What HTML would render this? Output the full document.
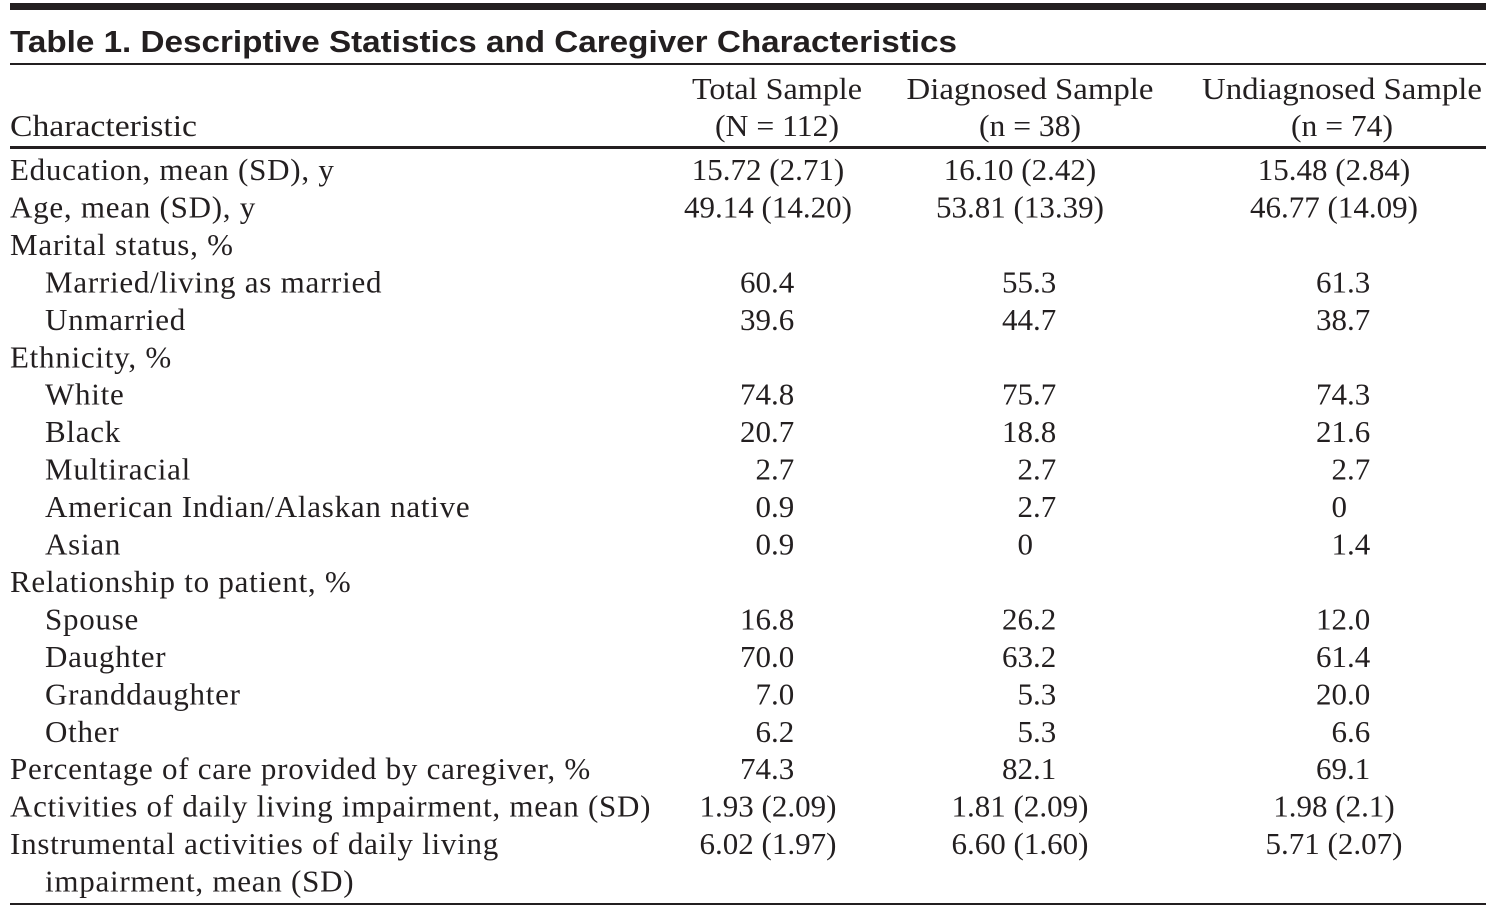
<!DOCTYPE html>
<html><head><meta charset="utf-8"><style>
html,body{margin:0;padding:0;background:#fff;}
svg{display:block;}
text{font-family:"Liberation Serif",serif;font-size:31px;fill:#231f20;}
.t{font-family:"Liberation Sans",sans-serif;font-weight:bold;font-size:31px;}
.lab{letter-spacing:0.75px;}
</style></head><body>
<svg id="tbl" width="1498" height="910" viewBox="0 0 1498 910" xmlns="http://www.w3.org/2000/svg">
<rect x="10" y="3" width="1476" height="7" fill="#231f20"/>
<text class="t" x="10" y="52" textLength="947" lengthAdjust="spacingAndGlyphs">Table 1. Descriptive Statistics and Caregiver Characteristics</text>
<rect x="10" y="63" width="1476" height="2" fill="#231f20"/>
<text x="10" y="136" textLength="187" lengthAdjust="spacingAndGlyphs">Characteristic</text>
<text x="777" y="99" text-anchor="middle" textLength="170" lengthAdjust="spacingAndGlyphs">Total Sample</text>
<text x="777" y="136" text-anchor="middle" textLength="124" lengthAdjust="spacingAndGlyphs">(N = 112)</text>
<text x="1030" y="99" text-anchor="middle" textLength="247" lengthAdjust="spacingAndGlyphs">Diagnosed Sample</text>
<text x="1030" y="136" text-anchor="middle" textLength="102" lengthAdjust="spacingAndGlyphs">(n = 38)</text>
<text x="1342" y="99" text-anchor="middle" textLength="280" lengthAdjust="spacingAndGlyphs">Undiagnosed Sample</text>
<text x="1342" y="136" text-anchor="middle" textLength="102" lengthAdjust="spacingAndGlyphs">(n = 74)</text>
<rect x="10" y="146" width="1476" height="3" fill="#231f20"/>
<rect x="10" y="903" width="1476" height="2" fill="#231f20"/>
<g id="rows"></g>
</svg>
<script>
const labels=["Education, mean (SD), y","Age, mean (SD), y","Marital status, %","Married/living as married","Unmarried","Ethnicity, %","White","Black","Multiracial","American Indian/Alaskan native","Asian","Relationship to patient, %","Spouse","Daughter","Granddaughter","Other","Percentage of care provided by caregiver, %","Activities of daily living impairment, mean (SD)","Instrumental activities of daily living","impairment, mean (SD)"];
const indents=[0,0,0,1,1,0,1,1,1,1,1,0,1,1,1,1,0,0,0,1];
const totalVals=["15.72 (2.71)","49.14 (14.20)","","60.4","39.6","","74.8","20.7","2.7","0.9","0.9","","16.8","70.0","7.0","6.2","74.3","1.93 (2.09)","6.02 (1.97)",""];
const diagVals=["16.10 (2.42)","53.81 (13.39)","","55.3","44.7","","75.7","18.8","2.7","2.7","0","","26.2","63.2","5.3","5.3","82.1","1.81 (2.09)","6.60 (1.60)",""];
const undiagVals=["15.48 (2.84)","46.77 (14.09)","","61.3","38.7","","74.3","21.6","2.7","0","1.4","","12.0","61.4","20.0","6.6","69.1","1.98 (2.1)","5.71 (2.07)",""];
const g=document.getElementById('rows');
const NS="http://www.w3.org/2000/svg";
const cols=[{v:totalVals,c:768,d:771,n:'total'},{v:diagVals,c:1020,d:1033,n:'diagnosed'},{v:undiagVals,c:1334,d:1347,n:'undiagnosed'}];
function mk(x,y,s,anchor){const t=document.createElementNS(NS,'text');t.setAttribute('x',x);t.setAttribute('y',y);t.setAttribute('text-anchor',anchor);t.textContent=s;return t;}
labels.forEach((lab,i)=>{
  const y=180+i*37.45;
  const t=mk(indents[i]?45:10,y,lab,'start');
  t.setAttribute('class','lab');
  
  
  g.appendChild(t);
  cols.forEach(col=>{
    const s=col.v[i]; if(!s) return;
    let e;
    if(s.indexOf('(')>=0){ e=mk(col.c,y,s,'middle'); }
    else{
      const p=s.split('.');
      e=document.createElementNS(NS,'text');
      e.setAttribute('y',y);
      if(p.length>1){
        e.setAttribute('x',col.d-15.5*p[0].length);e.setAttribute('text-anchor','start');
      }else{e.setAttribute('x',col.d);e.setAttribute('text-anchor','end');}
      e.textContent=s;
    }
    
    
    g.appendChild(e);
  });
});
</script>
</body></html>
